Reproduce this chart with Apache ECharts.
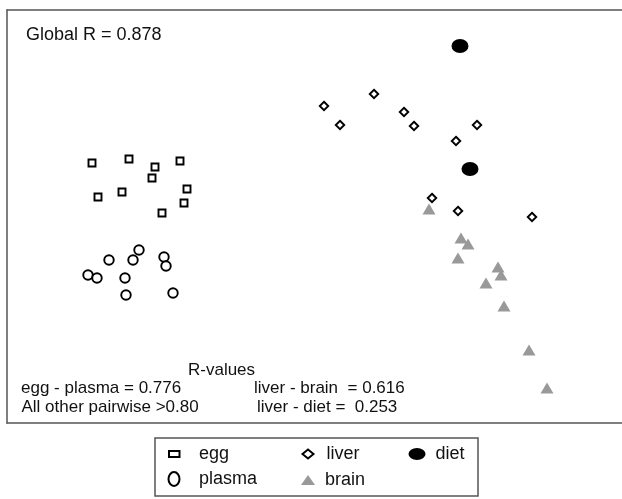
<!DOCTYPE html>
<html>
<head>
<meta charset="utf-8">
<script src="https://cdn.jsdelivr.net/npm/echarts@6/dist/echarts.min.js"></script>
<style>html,body{margin:0;padding:0;background:#fff;}#c{width:622px;height:499px;}</style>
</head>
<body>
<div id="c"></div>
<script>
// MDS ordination coordinates (arbitrary units)
const egg = [[-2.08,0.67],[-1.71,0.71],[-1.45,0.63],[-1.20,0.69],[-1.48,0.52],[-1.13,0.41],[-2.02,0.33],[-1.78,0.38],[-1.16,0.27],[-1.38,0.17]];
const plasma = [[-1.61,-0.20],[-1.91,-0.30],[-1.67,-0.30],[-1.36,-0.27],[-1.34,-0.36],[-2.12,-0.45],[-2.03,-0.48],[-1.75,-0.48],[-1.74,-0.65],[-1.27,-0.63]];
const liver = [[0.24,1.24],[0.40,1.05],[0.74,1.36],[1.04,1.18],[1.14,1.04],[1.77,1.05],[1.56,0.89],[1.32,0.32],[1.58,0.19],[2.32,0.13]];
const diet = [[1.60,1.84],[1.70,0.61]];
const brain = [[1.29,0.21],[1.61,-0.08],[1.68,-0.14],[1.58,-0.28],[1.98,-0.37],[2.01,-0.45],[1.86,-0.53],[2.04,-0.76],[2.29,-1.20],[2.47,-1.58]];

const globalR = 'Global R = 0.878';
const rTitle = 'R-values';
const rLeft = ['egg - plasma = 0.776', 'All other pairwise >0.80'];
const rRight = ['liver - brain  = 0.616', 'liver - diet =  0.253'];

const FONT = "'Liberation Sans', Arial, Helvetica, sans-serif";
const FRAME = '#555';
const chart = echarts.init(document.getElementById('c'), null, {renderer:'canvas'});

function txt(text, left, top, size){
  return {text:text, left:left, top:top, padding:0,
    textStyle:{fontSize:size, fontWeight:'normal', color:'#111', fontFamily:FONT}};
}
function leg(name, icon, left, top, w, h, pad){
  return {data:[{name:name, icon:icon}], left:left, top:top, itemWidth:w, itemHeight:h, padding:0,
    symbolKeepAspect:false, selectedMode:false,
    textStyle:{fontSize:18, color:'#111', fontFamily:FONT, padding:[0,0,0,pad]}};
}
function frameAxis(pos, min, max){
  return {type:'value', position:pos, min:min, max:max,
    axisLine:{show:true, onZero:false, lineStyle:{color:FRAME, width:1.5}},
    axisTick:{show:false}, axisLabel:{show:false}, splitLine:{show:false}};
}
const hollow = {color:'#fff', borderColor:'#000', borderWidth:1.9, opacity:1};

chart.setOption({
  animation:false,
  backgroundColor:'#fff',
  title:[
    txt(globalR, 26, 26, 18),
    txt(rTitle, 188, 362, 17),
    txt(rLeft[0], 21, 380, 17),
    txt(rLeft[1], 21.5, 398.5, 17),
    txt(rRight[0], 254, 380, 17),
    txt(rRight[1], 257, 398.5, 17)
  ],
  grid:{left:7, top:10, right:0, height:413},
  xAxis:[frameAxis('bottom', -2.93, 3.22), frameAxis('top', -2.93, 3.22)],
  yAxis:[frameAxis('left', -1.93, 2.20)],
  legend:[
    leg('egg', 'path://M0,0 H11 V6 H0 Z', 168, 445, 10.5, 6, 14.5),
    leg('liver', 'path://M5.5,0 L11,4.5 L5.5,9 L0,4.5 Z', 301.5, 445, 11, 9, 8),
    leg('diet', 'path://M0,6 A8.5,6 0 1,1 17,6 A8.5,6 0 1,1 0,6 Z', 408.5, 445, 17, 12, 5),
    leg('plasma', 'path://M5.5,0 A5.5,7 0 1,1 5.5,14 A5.5,7 0 1,1 5.5,0 Z', 167.5, 470, 11, 14, 14.5),
    leg('brain', 'path://M7,0 L14,10 L0,10 Z', 301, 471, 14, 10, 5)
  ],
  graphic:[{type:'rect', shape:{x:155, y:438, width:323, height:58},
    style:{fill:'none', stroke:FRAME, lineWidth:1.5}}],
  series:[
    {name:'egg', type:'scatter', data:egg, symbol:'rect', symbolSize:7,
      itemStyle:hollow},
    {name:'plasma', type:'scatter', data:plasma, symbol:'circle', symbolSize:9.5,
      itemStyle:hollow},
    {name:'liver', type:'scatter', data:liver, symbol:'diamond', symbolSize:8.5,
      itemStyle:hollow},
    {name:'brain', type:'scatter', data:brain, symbol:'triangle', symbolSize:[13,11],
      itemStyle:{color:'#999', opacity:1}},
    {name:'diet', type:'scatter', data:diet, symbol:'circle', symbolSize:[17,14],
      itemStyle:{color:'#000', opacity:1}}
  ]
});
</script>
</body>
</html>
